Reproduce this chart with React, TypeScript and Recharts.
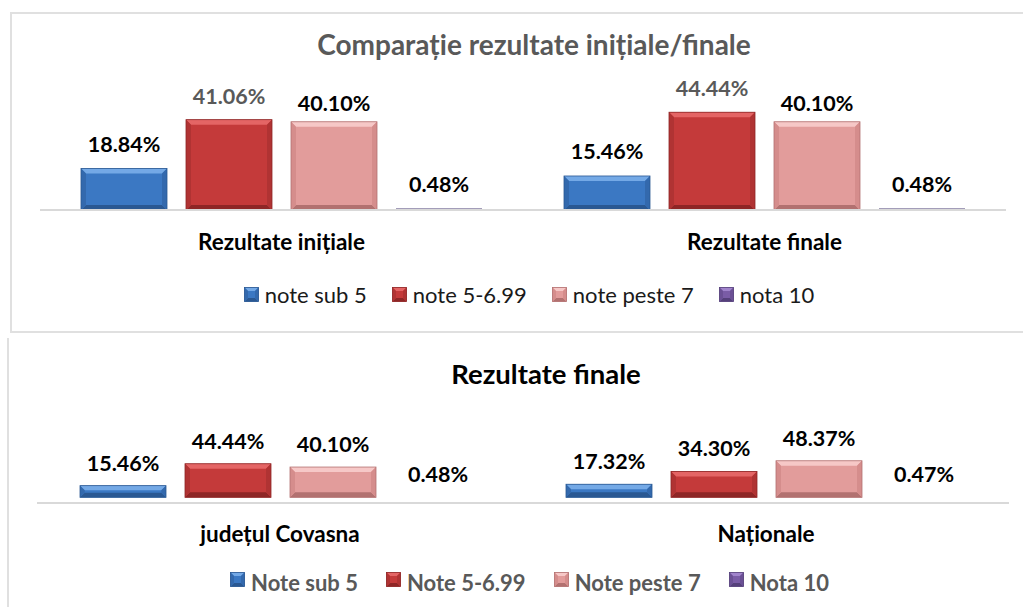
import React from "react";
import { BarChart, Bar, XAxis, YAxis, LabelList, Legend } from "recharts";

// top chart: initial vs final results
const topCategories = ["Rezultate inițiale", "Rezultate finale"];
const topSub5 = [18.84, 15.46];
const topMid = [41.06, 44.44];
const topPeste7 = [40.1, 40.1];
const topNota10 = [0.48, 0.48];

// bottom chart: county vs national
const bottomCategories = ["județul Covasna", "Naționale"];
const bottomSub5 = [15.46, 17.32];
const bottomMid = [44.44, 34.3];
const bottomPeste7 = [40.1, 48.37];
const bottomNota10 = [0.48, 0.47];

const topSeriesNames = ["note sub 5", "note 5-6.99", "note peste 7", "nota 10"];
const bottomSeriesNames = ["Note sub 5", "Note 5-6.99", "Note peste 7", "Nota 10"];

const FONT = "Lato, 'Noto Sans', sans-serif";

const PALETTE = [
  { main: "#3b78c3", light: "#74a9e6", dark: "#2a5892", side: "#3369ad" },
  { main: "#c43a3a", light: "#e46565", dark: "#8e2626", side: "#b03333" },
  { main: "#e29c9b", light: "#f6c8c7", dark: "#b27170", side: "#d58d8c" },
  { main: "#7a5ca6", light: "#a184cc", dark: "#55407a", side: "#6b5095" },
];

const keys = ["sub5", "mid", "peste7", "nota10"];

function build(cats: string[], a: number[], b: number[], c: number[], d: number[]) {
  return cats.map((name, i) => ({ name, sub5: a[i], mid: b[i], peste7: c[i], nota10: d[i] }));
}

const topData = build(topCategories, topSub5, topMid, topPeste7, topNota10);
const bottomData = build(bottomCategories, bottomSub5, bottomMid, bottomPeste7, bottomNota10);

function Bevel({ x, y, width, height, c }: any) {
  if (!(width > 0) || !(height > 0)) return null;
  const w = width;
  const h = height;
  // very thin bars: a faint strip only, no bevel
  if (h < 1.5) {
    if (h < 0.5) return null;
    return <rect x={x} y={y + h - 2} width={w} height={2} fill="#8c84a8" opacity={0.8} />;
  }
  const b = Math.min(5, h / 2.5, w / 4);
  return (
    <g>
      <rect x={x} y={y} width={w} height={h} fill={c.main} />
      <polygon
        points={`${x},${y} ${x + w},${y} ${x + w - b},${y + b} ${x + b},${y + b}`}
        fill={c.light}
      />
      <polygon
        points={`${x},${y + h} ${x + w},${y + h} ${x + w - b},${y + h - b} ${x + b},${y + h - b}`}
        fill={c.dark}
      />
      <polygon points={`${x},${y} ${x + b},${y + b} ${x + b},${y + h - b} ${x},${y + h}`} fill={c.side} />
      <polygon
        points={`${x + w},${y} ${x + w - b},${y + b} ${x + w - b},${y + h - b} ${x + w},${y + h}`}
        fill={c.side}
      />
      <rect x={x} y={y} width={w} height={h} fill="none" stroke={c.dark} strokeWidth={0.8} />
    </g>
  );
}

const fmt = (v: number) => v.toFixed(2) + "%";

const makeLabel = (fill: string, off: number) => (p: any) => (
  <text
    x={p.x + p.width / 2}
    y={p.y - off}
    textAnchor="middle"
    fill={fill}
    fontSize={21.5}
    fontWeight={700}
    fontFamily={FONT}
  >
    {fmt(p.value)}
  </text>
);

const makeTick = (dy: number) => (p: any) => (
  <text
    x={p.x}
    y={p.y + dy}
    textAnchor="middle"
    fill="#000"
    fontSize={22.5}
    fontWeight={700}
    fontFamily={FONT}
  >
    {p.payload.value}
  </text>
);

function LegendRow({ names, color, bold, gap }: any) {
  return (
    <div
      style={{
        display: "flex",
        justifyContent: "center",
        alignItems: "center",
        gap,
        fontFamily: FONT,
        fontSize: 22,
        fontWeight: bold ? 700 : 400,
        color,
        lineHeight: "24px",
      }}
    >
      {names.map((n: string, i: number) => (
        <div key={n} style={{ display: "flex", alignItems: "center" }}>
          <svg width={15} height={15} style={{ marginRight: 6, marginTop: bold ? -8 : -2 }}>
            <Bevel x={0.5} y={0.5} width={14} height={14} c={PALETTE[i]} />
          </svg>
          <span>{n}</span>
        </div>
      ))}
    </div>
  );
}

export default function App() {
  const topLabelColors = ["#000", "#595959", "#000", "#000"];
  const topOffsets = [17, 16, 11, 17];
  return (
    <div style={{ position: "absolute", left: 0, top: 0, width: 1023, height: 607, background: "#fff" }}>
      {/* top chart frame */}
      <div
        style={{
          position: "absolute",
          left: 10,
          top: 12,
          width: 1020,
          height: 317,
          border: "2px solid #e0e0e0",
          borderRight: "none",
        }}
      />
      {/* bottom chart frame (left edge only) */}
      <div
        style={{
          position: "absolute",
          left: 7,
          top: 338,
          width: 0,
          height: 269,
          borderLeft: "2px solid #e0e0e0",
        }}
      />

      <div
        style={{
          position: "absolute",
          left: 0,
          width: 1068,
          top: 29,
          textAlign: "center",
          fontFamily: FONT,
          fontSize: 28,
          fontWeight: 700,
          color: "#595959",
          lineHeight: "30px",
        }}
      >
        Comparație rezultate inițiale/finale
      </div>

      <div style={{ position: "absolute", left: 0, top: 0 }}>
        <BarChart
          width={1023}
          height={330}
          data={topData}
          margin={{ top: 100, right: 17, bottom: 66, left: 40 }}
          barSize={86}
          barGap={19}
        >
          <XAxis
            dataKey="name"
            tickLine={false}
            tickSize={0}
            tickMargin={0}
            height={30}
            axisLine={{ stroke: "#d9d9d9", strokeWidth: 2 }}
            tick={makeTick(40)}
            interval={0}
          />
          <YAxis hide domain={[0, 50]} />
          <Legend
            verticalAlign="bottom"
            wrapperStyle={{ position: "absolute", left: 0, top: 283, width: 1058 }}
            content={() => <LegendRow names={topSeriesNames} color="#1a1a1a" bold={false} gap={25} />}
          />
          {keys.map((k, i) => (
            <Bar
              key={k}
              dataKey={k}
              name={topSeriesNames[i]}
              isAnimationActive={false}
              shape={(p: any) => <Bevel {...p} c={PALETTE[i]} />}
            >
              <LabelList dataKey={k} content={makeLabel(topLabelColors[i], topOffsets[i])} />
            </Bar>
          ))}
        </BarChart>
      </div>

      <div
        style={{
          position: "absolute",
          left: 0,
          width: 1092,
          top: 359,
          textAlign: "center",
          fontFamily: FONT,
          fontSize: 27.5,
          fontWeight: 700,
          color: "#000",
          lineHeight: "30px",
        }}
      >
        Rezultate finale
      </div>

      <div style={{ position: "absolute", left: 0, top: 331 }}>
        <BarChart
          width={1023}
          height={276}
          data={bottomData}
          margin={{ top: 121, right: 14, bottom: 50, left: 37 }}
          barSize={86}
          barGap={19}
        >
          <XAxis
            dataKey="name"
            tickLine={false}
            tickSize={0}
            tickMargin={0}
            height={30}
            axisLine={{ stroke: "#d9d9d9", strokeWidth: 2 }}
            tick={makeTick(39)}
            interval={0}
          />
          <YAxis hide domain={[-7.5, 60]} />
          <Legend
            verticalAlign="bottom"
            wrapperStyle={{ position: "absolute", left: 0, top: 240, width: 1059 }}
            content={() => <LegendRow names={bottomSeriesNames} color="#595959" bold gap={28} />}
          />
          {keys.map((k, i) => (
            <Bar
              key={k}
              dataKey={k}
              name={bottomSeriesNames[i]}
              isAnimationActive={false}
              shape={(p: any) => <Bevel {...p} c={PALETTE[i]} />}
            >
              <LabelList dataKey={k} content={makeLabel("#000", 15)} />
            </Bar>
          ))}
        </BarChart>
      </div>
    </div>
  );
}
